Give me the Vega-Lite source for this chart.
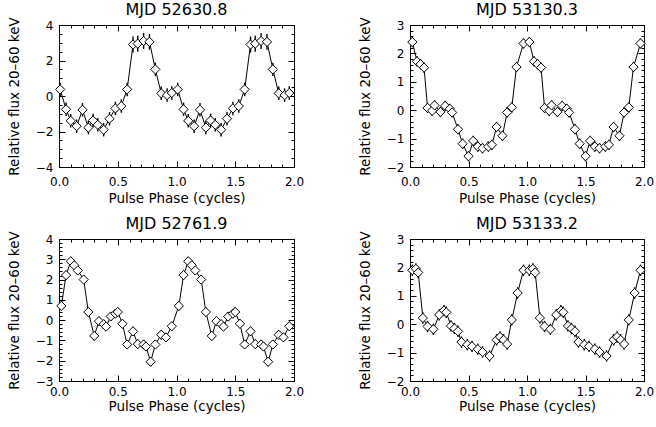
{
  "$schema": "https://vega.github.io/schema/vega-lite/v6.json",
  "background": "white",
  "padding": {"left": 6, "top": 1, "right": 2, "bottom": 2},
  "datasets": {
    "p1": [
      {"phase": 0.01, "flux": 0.37, "err": 0.38}, {"phase": 0.06, "flux": -0.75, "err": 0.38}, {"phase": 0.10, "flux": -1.40, "err": 0.38},
      {"phase": 0.15, "flux": -1.70, "err": 0.38}, {"phase": 0.20, "flux": -0.78, "err": 0.38}, {"phase": 0.25, "flux": -1.78, "err": 0.38},
      {"phase": 0.29, "flux": -1.38, "err": 0.38}, {"phase": 0.33, "flux": -1.62, "err": 0.38}, {"phase": 0.38, "flux": -1.90, "err": 0.38},
      {"phase": 0.43, "flux": -1.28, "err": 0.38}, {"phase": 0.48, "flux": -0.70, "err": 0.38}, {"phase": 0.53, "flux": -0.57, "err": 0.38},
      {"phase": 0.58, "flux": 0.37, "err": 0.38}, {"phase": 0.63, "flux": 2.90, "err": 0.45}, {"phase": 0.67, "flux": 2.95, "err": 0.45},
      {"phase": 0.72, "flux": 3.10, "err": 0.45}, {"phase": 0.77, "flux": 3.05, "err": 0.45}, {"phase": 0.82, "flux": 1.50, "err": 0.38},
      {"phase": 0.87, "flux": 0.15, "err": 0.38}, {"phase": 0.92, "flux": 0.05, "err": 0.38}, {"phase": 0.96, "flux": 0.17, "err": 0.38},
      {"phase": 1.01, "flux": 0.37, "err": 0.38}, {"phase": 1.06, "flux": -0.75, "err": 0.38}, {"phase": 1.10, "flux": -1.40, "err": 0.38},
      {"phase": 1.15, "flux": -1.70, "err": 0.38}, {"phase": 1.20, "flux": -0.78, "err": 0.38}, {"phase": 1.25, "flux": -1.78, "err": 0.38},
      {"phase": 1.29, "flux": -1.38, "err": 0.38}, {"phase": 1.33, "flux": -1.62, "err": 0.38}, {"phase": 1.38, "flux": -1.90, "err": 0.38},
      {"phase": 1.43, "flux": -1.28, "err": 0.38}, {"phase": 1.48, "flux": -0.70, "err": 0.38}, {"phase": 1.53, "flux": -0.57, "err": 0.38},
      {"phase": 1.58, "flux": 0.37, "err": 0.38}, {"phase": 1.63, "flux": 2.90, "err": 0.45}, {"phase": 1.67, "flux": 2.95, "err": 0.45},
      {"phase": 1.72, "flux": 3.10, "err": 0.45}, {"phase": 1.77, "flux": 3.05, "err": 0.45}, {"phase": 1.82, "flux": 1.50, "err": 0.38},
      {"phase": 1.87, "flux": 0.15, "err": 0.38}, {"phase": 1.92, "flux": 0.05, "err": 0.38}, {"phase": 1.96, "flux": 0.17, "err": 0.38}
    ],
    "p2": [
      {"phase": 0.02, "flux": 2.40, "err": 0.18}, {"phase": 0.06, "flux": 1.72, "err": 0.18}, {"phase": 0.09, "flux": 1.62, "err": 0.18},
      {"phase": 0.12, "flux": 1.50, "err": 0.18}, {"phase": 0.15, "flux": 0.08, "err": 0.18}, {"phase": 0.19, "flux": -0.02, "err": 0.18},
      {"phase": 0.21, "flux": 0.17, "err": 0.18}, {"phase": 0.26, "flux": -0.06, "err": 0.18}, {"phase": 0.30, "flux": 0.15, "err": 0.18},
      {"phase": 0.34, "flux": 0.05, "err": 0.18}, {"phase": 0.36, "flux": -0.08, "err": 0.18}, {"phase": 0.41, "flux": -0.67, "err": 0.18},
      {"phase": 0.45, "flux": -1.18, "err": 0.18}, {"phase": 0.50, "flux": -1.62, "err": 0.18}, {"phase": 0.54, "flux": -1.08, "err": 0.18},
      {"phase": 0.58, "flux": -1.28, "err": 0.18}, {"phase": 0.62, "flux": -1.34, "err": 0.18}, {"phase": 0.67, "flux": -1.28, "err": 0.18},
      {"phase": 0.70, "flux": -1.22, "err": 0.18}, {"phase": 0.74, "flux": -0.59, "err": 0.18}, {"phase": 0.79, "flux": -0.90, "err": 0.18},
      {"phase": 0.83, "flux": -0.08, "err": 0.18}, {"phase": 0.87, "flux": 0.10, "err": 0.18}, {"phase": 0.91, "flux": 1.52, "err": 0.18},
      {"phase": 0.97, "flux": 2.35, "err": 0.18},
      {"phase": 1.02, "flux": 2.40, "err": 0.18}, {"phase": 1.06, "flux": 1.72, "err": 0.18}, {"phase": 1.09, "flux": 1.62, "err": 0.18},
      {"phase": 1.12, "flux": 1.50, "err": 0.18}, {"phase": 1.15, "flux": 0.08, "err": 0.18}, {"phase": 1.19, "flux": -0.02, "err": 0.18},
      {"phase": 1.21, "flux": 0.17, "err": 0.18}, {"phase": 1.26, "flux": -0.06, "err": 0.18}, {"phase": 1.30, "flux": 0.15, "err": 0.18},
      {"phase": 1.34, "flux": 0.05, "err": 0.18}, {"phase": 1.36, "flux": -0.08, "err": 0.18}, {"phase": 1.41, "flux": -0.67, "err": 0.18},
      {"phase": 1.45, "flux": -1.18, "err": 0.18}, {"phase": 1.50, "flux": -1.62, "err": 0.18}, {"phase": 1.54, "flux": -1.08, "err": 0.18},
      {"phase": 1.58, "flux": -1.28, "err": 0.18}, {"phase": 1.62, "flux": -1.34, "err": 0.18}, {"phase": 1.67, "flux": -1.28, "err": 0.18},
      {"phase": 1.70, "flux": -1.22, "err": 0.18}, {"phase": 1.74, "flux": -0.59, "err": 0.18}, {"phase": 1.79, "flux": -0.90, "err": 0.18},
      {"phase": 1.83, "flux": -0.08, "err": 0.18}, {"phase": 1.87, "flux": 0.10, "err": 0.18}, {"phase": 1.91, "flux": 1.52, "err": 0.18},
      {"phase": 1.97, "flux": 2.35, "err": 0.18}
    ],
    "p3": [
      {"phase": 0.02, "flux": 0.70, "err": 0.22}, {"phase": 0.06, "flux": 2.22, "err": 0.22}, {"phase": 0.10, "flux": 2.90, "err": 0.22},
      {"phase": 0.13, "flux": 2.70, "err": 0.22}, {"phase": 0.16, "flux": 2.45, "err": 0.22}, {"phase": 0.21, "flux": 2.00, "err": 0.22},
      {"phase": 0.25, "flux": 0.40, "err": 0.22}, {"phase": 0.30, "flux": -0.78, "err": 0.22}, {"phase": 0.34, "flux": -0.05, "err": 0.22},
      {"phase": 0.38, "flux": -0.20, "err": 0.22}, {"phase": 0.40, "flux": -0.32, "err": 0.22}, {"phase": 0.44, "flux": 0.18, "err": 0.22},
      {"phase": 0.48, "flux": 0.32, "err": 0.22}, {"phase": 0.50, "flux": 0.40, "err": 0.22}, {"phase": 0.54, "flux": -0.18, "err": 0.22},
      {"phase": 0.58, "flux": -1.20, "err": 0.22}, {"phase": 0.63, "flux": -0.55, "err": 0.22}, {"phase": 0.67, "flux": -1.18, "err": 0.22},
      {"phase": 0.72, "flux": -1.20, "err": 0.22}, {"phase": 0.74, "flux": -1.30, "err": 0.22}, {"phase": 0.78, "flux": -2.05, "err": 0.22},
      {"phase": 0.82, "flux": -1.20, "err": 0.22}, {"phase": 0.87, "flux": -0.72, "err": 0.22}, {"phase": 0.91, "flux": -0.85, "err": 0.22},
      {"phase": 0.96, "flux": -0.30, "err": 0.22},
      {"phase": 1.02, "flux": 0.70, "err": 0.22}, {"phase": 1.06, "flux": 2.22, "err": 0.22}, {"phase": 1.10, "flux": 2.90, "err": 0.22},
      {"phase": 1.13, "flux": 2.70, "err": 0.22}, {"phase": 1.16, "flux": 2.45, "err": 0.22}, {"phase": 1.21, "flux": 2.00, "err": 0.22},
      {"phase": 1.25, "flux": 0.40, "err": 0.22}, {"phase": 1.30, "flux": -0.78, "err": 0.22}, {"phase": 1.34, "flux": -0.05, "err": 0.22},
      {"phase": 1.38, "flux": -0.20, "err": 0.22}, {"phase": 1.40, "flux": -0.32, "err": 0.22}, {"phase": 1.44, "flux": 0.18, "err": 0.22},
      {"phase": 1.48, "flux": 0.32, "err": 0.22}, {"phase": 1.50, "flux": 0.40, "err": 0.22}, {"phase": 1.54, "flux": -0.18, "err": 0.22},
      {"phase": 1.58, "flux": -1.20, "err": 0.22}, {"phase": 1.63, "flux": -0.55, "err": 0.22}, {"phase": 1.67, "flux": -1.18, "err": 0.22},
      {"phase": 1.72, "flux": -1.20, "err": 0.22}, {"phase": 1.74, "flux": -1.30, "err": 0.22}, {"phase": 1.78, "flux": -2.05, "err": 0.22},
      {"phase": 1.82, "flux": -1.20, "err": 0.22}, {"phase": 1.87, "flux": -0.72, "err": 0.22}, {"phase": 1.91, "flux": -0.85, "err": 0.22},
      {"phase": 1.96, "flux": -0.30, "err": 0.22}
    ],
    "p4": [
      {"phase": 0.02, "flux": 1.90, "err": 0.2}, {"phase": 0.05, "flux": 1.95, "err": 0.2}, {"phase": 0.07, "flux": 1.82, "err": 0.2},
      {"phase": 0.11, "flux": 0.22, "err": 0.2}, {"phase": 0.15, "flux": -0.08, "err": 0.2}, {"phase": 0.20, "flux": -0.18, "err": 0.2},
      {"phase": 0.25, "flux": 0.33, "err": 0.2}, {"phase": 0.29, "flux": 0.48, "err": 0.2}, {"phase": 0.31, "flux": 0.42, "err": 0.2},
      {"phase": 0.35, "flux": -0.06, "err": 0.2}, {"phase": 0.38, "flux": -0.15, "err": 0.2}, {"phase": 0.41, "flux": -0.25, "err": 0.2},
      {"phase": 0.44, "flux": -0.63, "err": 0.2}, {"phase": 0.49, "flux": -0.72, "err": 0.2}, {"phase": 0.53, "flux": -0.78, "err": 0.2},
      {"phase": 0.58, "flux": -0.88, "err": 0.2}, {"phase": 0.62, "flux": -0.98, "err": 0.2}, {"phase": 0.68, "flux": -1.12, "err": 0.2},
      {"phase": 0.74, "flux": -0.55, "err": 0.2}, {"phase": 0.77, "flux": -0.45, "err": 0.2}, {"phase": 0.80, "flux": -0.55, "err": 0.2},
      {"phase": 0.83, "flux": -0.70, "err": 0.2}, {"phase": 0.87, "flux": 0.15, "err": 0.2}, {"phase": 0.92, "flux": 1.10, "err": 0.2},
      {"phase": 0.97, "flux": 1.90, "err": 0.2},
      {"phase": 1.02, "flux": 1.90, "err": 0.2}, {"phase": 1.05, "flux": 1.95, "err": 0.2}, {"phase": 1.07, "flux": 1.82, "err": 0.2},
      {"phase": 1.11, "flux": 0.22, "err": 0.2}, {"phase": 1.15, "flux": -0.08, "err": 0.2}, {"phase": 1.20, "flux": -0.18, "err": 0.2},
      {"phase": 1.25, "flux": 0.33, "err": 0.2}, {"phase": 1.29, "flux": 0.48, "err": 0.2}, {"phase": 1.31, "flux": 0.42, "err": 0.2},
      {"phase": 1.35, "flux": -0.06, "err": 0.2}, {"phase": 1.38, "flux": -0.15, "err": 0.2}, {"phase": 1.41, "flux": -0.25, "err": 0.2},
      {"phase": 1.44, "flux": -0.63, "err": 0.2}, {"phase": 1.49, "flux": -0.72, "err": 0.2}, {"phase": 1.53, "flux": -0.78, "err": 0.2},
      {"phase": 1.58, "flux": -0.88, "err": 0.2}, {"phase": 1.62, "flux": -0.98, "err": 0.2}, {"phase": 1.68, "flux": -1.12, "err": 0.2},
      {"phase": 1.74, "flux": -0.55, "err": 0.2}, {"phase": 1.77, "flux": -0.45, "err": 0.2}, {"phase": 1.80, "flux": -0.55, "err": 0.2},
      {"phase": 1.83, "flux": -0.70, "err": 0.2}, {"phase": 1.87, "flux": 0.15, "err": 0.2}, {"phase": 1.92, "flux": 1.10, "err": 0.2},
      {"phase": 1.97, "flux": 1.90, "err": 0.2}
    ]
  },
  "columns": 2,
  "spacing": {"row": 72, "column": 116},
  "bounds": "flush",
  "concat": [
    {
      "title": "MJD 52630.8",
      "width": 235, "height": 142,
      "data": {"name": "p1"},
      "resolve": {"axis": {"x": "independent", "y": "independent"}},
      "layer": [
        {"mark": {"type": "errorbar", "rule": {"stroke": "black", "strokeWidth": 1.4}},
         "encoding": {
           "x": {"field": "phase", "type": "quantitative", "axis": null, "scale": {"domain": [0, 2], "nice": false, "zero": false}},
           "y": {"field": "flux", "type": "quantitative", "axis": null, "scale": {"domain": [-4, 4], "nice": false, "zero": false}},
           "yError": {"field": "err"}}},
        {"mark": {"type": "line", "color": "black", "strokeWidth": 1},
         "encoding": {
           "x": {"field": "phase", "type": "quantitative", "axis": {"orient": "bottom", "title": "Pulse Phase (cycles)", "tickCount": 200, "values": [0,0.1,0.2,0.3,0.4,0.5,0.6,0.7,0.8,0.9,1,1.1,1.2,1.3,1.4,1.5,1.6,1.7,1.8,1.9,2], "labelExpr": "abs(datum.value*2-round(datum.value*2))<0.01 ? format(datum.value, '.1f') : ''", "tickSize": {"condition": {"test": "abs(datum.value*2-round(datum.value*2))<0.01", "value": -6}, "value": -3}, "labelPadding": 15, "titlePadding": 1}},
           "y": {"field": "flux", "type": "quantitative", "axis": {"orient": "left", "title": "Relative flux 20–60 keV", "tickCount": 200, "values": [-4,-3.5,-3,-2.5,-2,-1.5,-1,-0.5,0,0.5,1,1.5,2,2.5,3,3.5,4], "labelExpr": "abs(datum.value/2-round(datum.value/2))<0.01 ? format(datum.value, 'd') : ''", "tickSize": {"condition": {"test": "abs(datum.value/2-round(datum.value/2))<0.01", "value": -6}, "value": -3}, "labelPadding": 12, "titlePadding": 14}}}},
        {"mark": {"type": "point", "shape": "diamond", "filled": true, "fill": "white", "stroke": "black", "strokeWidth": 1, "size": 85, "opacity": 1},
         "encoding": {
           "x": {"field": "phase", "type": "quantitative", "axis": {"orient": "top", "title": null, "labels": false, "tickCount": 200, "values": [0,0.1,0.2,0.3,0.4,0.5,0.6,0.7,0.8,0.9,1,1.1,1.2,1.3,1.4,1.5,1.6,1.7,1.8,1.9,2], "tickSize": {"condition": {"test": "abs(datum.value*2-round(datum.value*2))<0.01", "value": -6}, "value": -3}}},
           "y": {"field": "flux", "type": "quantitative", "axis": {"orient": "right", "title": null, "labels": false, "tickCount": 200, "values": [-4,-3.5,-3,-2.5,-2,-1.5,-1,-0.5,0,0.5,1,1.5,2,2.5,3,3.5,4], "tickSize": {"condition": {"test": "abs(datum.value/2-round(datum.value/2))<0.01", "value": -6}, "value": -3}}}}}
      ]
    },
    {
      "title": "MJD 53130.3",
      "width": 234, "height": 142,
      "data": {"name": "p2"},
      "resolve": {"axis": {"x": "independent", "y": "independent"}},
      "layer": [
        {"mark": {"type": "errorbar", "rule": {"stroke": "black", "strokeWidth": 1.4}},
         "encoding": {
           "x": {"field": "phase", "type": "quantitative", "axis": null, "scale": {"domain": [0, 2], "nice": false, "zero": false}},
           "y": {"field": "flux", "type": "quantitative", "axis": null, "scale": {"domain": [-2, 3], "nice": false, "zero": false}},
           "yError": {"field": "err"}}},
        {"mark": {"type": "line", "color": "black", "strokeWidth": 1},
         "encoding": {
           "x": {"field": "phase", "type": "quantitative", "axis": {"orient": "bottom", "title": "Pulse Phase (cycles)", "tickCount": 200, "values": [0,0.1,0.2,0.3,0.4,0.5,0.6,0.7,0.8,0.9,1,1.1,1.2,1.3,1.4,1.5,1.6,1.7,1.8,1.9,2], "labelExpr": "abs(datum.value*2-round(datum.value*2))<0.01 ? format(datum.value, '.1f') : ''", "tickSize": {"condition": {"test": "abs(datum.value*2-round(datum.value*2))<0.01", "value": -6}, "value": -3}, "labelPadding": 15, "titlePadding": 1}},
           "y": {"field": "flux", "type": "quantitative", "axis": {"orient": "left", "title": "Relative flux 20–60 keV", "tickCount": 200, "values": [-2,-1.8,-1.6,-1.4,-1.2,-1,-0.8,-0.6,-0.4,-0.2,0,0.2,0.4,0.6,0.8,1,1.2,1.4,1.6,1.8,2,2.2,2.4,2.6,2.8,3], "labelExpr": "abs(datum.value-round(datum.value))<0.01 ? format(datum.value, 'd') : ''", "tickSize": {"condition": {"test": "abs(datum.value-round(datum.value))<0.01", "value": -6}, "value": -3}, "labelPadding": 12, "titlePadding": 14}}}},
        {"mark": {"type": "point", "shape": "diamond", "filled": true, "fill": "white", "stroke": "black", "strokeWidth": 1, "size": 85, "opacity": 1},
         "encoding": {
           "x": {"field": "phase", "type": "quantitative", "axis": {"orient": "top", "title": null, "labels": false, "tickCount": 200, "values": [0,0.1,0.2,0.3,0.4,0.5,0.6,0.7,0.8,0.9,1,1.1,1.2,1.3,1.4,1.5,1.6,1.7,1.8,1.9,2], "tickSize": {"condition": {"test": "abs(datum.value*2-round(datum.value*2))<0.01", "value": -6}, "value": -3}}},
           "y": {"field": "flux", "type": "quantitative", "axis": {"orient": "right", "title": null, "labels": false, "tickCount": 200, "values": [-2,-1.8,-1.6,-1.4,-1.2,-1,-0.8,-0.6,-0.4,-0.2,0,0.2,0.4,0.6,0.8,1,1.2,1.4,1.6,1.8,2,2.2,2.4,2.6,2.8,3], "tickSize": {"condition": {"test": "abs(datum.value-round(datum.value))<0.01", "value": -6}, "value": -3}}}}}
      ]
    },
    {
      "title": "MJD 52761.9",
      "width": 235, "height": 142,
      "data": {"name": "p3"},
      "resolve": {"axis": {"x": "independent", "y": "independent"}},
      "layer": [
        {"mark": {"type": "errorbar", "rule": {"stroke": "black", "strokeWidth": 1.4}},
         "encoding": {
           "x": {"field": "phase", "type": "quantitative", "axis": null, "scale": {"domain": [0, 2], "nice": false, "zero": false}},
           "y": {"field": "flux", "type": "quantitative", "axis": null, "scale": {"domain": [-3, 4], "nice": false, "zero": false}},
           "yError": {"field": "err"}}},
        {"mark": {"type": "line", "color": "black", "strokeWidth": 1},
         "encoding": {
           "x": {"field": "phase", "type": "quantitative", "axis": {"orient": "bottom", "title": "Pulse Phase (cycles)", "tickCount": 200, "values": [0,0.1,0.2,0.3,0.4,0.5,0.6,0.7,0.8,0.9,1,1.1,1.2,1.3,1.4,1.5,1.6,1.7,1.8,1.9,2], "labelExpr": "abs(datum.value*2-round(datum.value*2))<0.01 ? format(datum.value, '.1f') : ''", "tickSize": {"condition": {"test": "abs(datum.value*2-round(datum.value*2))<0.01", "value": -6}, "value": -3}, "labelPadding": 11, "titlePadding": -1}},
           "y": {"field": "flux", "type": "quantitative", "axis": {"orient": "left", "title": "Relative flux 20–60 keV", "tickCount": 200, "values": [-3,-2.8,-2.6,-2.4,-2.2,-2,-1.8,-1.6,-1.4,-1.2,-1,-0.8,-0.6,-0.4,-0.2,0,0.2,0.4,0.6,0.8,1,1.2,1.4,1.6,1.8,2,2.2,2.4,2.6,2.8,3,3.2,3.4,3.6,3.8,4], "labelExpr": "abs(datum.value-round(datum.value))<0.01 ? format(datum.value, 'd') : ''", "tickSize": {"condition": {"test": "abs(datum.value-round(datum.value))<0.01", "value": -6}, "value": -3}, "labelPadding": 12, "titlePadding": 14}}}},
        {"mark": {"type": "point", "shape": "diamond", "filled": true, "fill": "white", "stroke": "black", "strokeWidth": 1, "size": 85, "opacity": 1},
         "encoding": {
           "x": {"field": "phase", "type": "quantitative", "axis": {"orient": "top", "title": null, "labels": false, "tickCount": 200, "values": [0,0.1,0.2,0.3,0.4,0.5,0.6,0.7,0.8,0.9,1,1.1,1.2,1.3,1.4,1.5,1.6,1.7,1.8,1.9,2], "tickSize": {"condition": {"test": "abs(datum.value*2-round(datum.value*2))<0.01", "value": -6}, "value": -3}}},
           "y": {"field": "flux", "type": "quantitative", "axis": {"orient": "right", "title": null, "labels": false, "tickCount": 200, "values": [-3,-2.8,-2.6,-2.4,-2.2,-2,-1.8,-1.6,-1.4,-1.2,-1,-0.8,-0.6,-0.4,-0.2,0,0.2,0.4,0.6,0.8,1,1.2,1.4,1.6,1.8,2,2.2,2.4,2.6,2.8,3,3.2,3.4,3.6,3.8,4], "tickSize": {"condition": {"test": "abs(datum.value-round(datum.value))<0.01", "value": -6}, "value": -3}}}}}
      ]
    },
    {
      "title": "MJD 53133.2",
      "width": 234, "height": 142,
      "data": {"name": "p4"},
      "resolve": {"axis": {"x": "independent", "y": "independent"}},
      "layer": [
        {"mark": {"type": "errorbar", "rule": {"stroke": "black", "strokeWidth": 1.4}},
         "encoding": {
           "x": {"field": "phase", "type": "quantitative", "axis": null, "scale": {"domain": [0, 2], "nice": false, "zero": false}},
           "y": {"field": "flux", "type": "quantitative", "axis": null, "scale": {"domain": [-2, 3], "nice": false, "zero": false}},
           "yError": {"field": "err"}}},
        {"mark": {"type": "line", "color": "black", "strokeWidth": 1},
         "encoding": {
           "x": {"field": "phase", "type": "quantitative", "axis": {"orient": "bottom", "title": "Pulse Phase (cycles)", "tickCount": 200, "values": [0,0.1,0.2,0.3,0.4,0.5,0.6,0.7,0.8,0.9,1,1.1,1.2,1.3,1.4,1.5,1.6,1.7,1.8,1.9,2], "labelExpr": "abs(datum.value*2-round(datum.value*2))<0.01 ? format(datum.value, '.1f') : ''", "tickSize": {"condition": {"test": "abs(datum.value*2-round(datum.value*2))<0.01", "value": -6}, "value": -3}, "labelPadding": 11, "titlePadding": -1}},
           "y": {"field": "flux", "type": "quantitative", "axis": {"orient": "left", "title": "Relative flux 20–60 keV", "tickCount": 200, "values": [-2,-1.8,-1.6,-1.4,-1.2,-1,-0.8,-0.6,-0.4,-0.2,0,0.2,0.4,0.6,0.8,1,1.2,1.4,1.6,1.8,2,2.2,2.4,2.6,2.8,3], "labelExpr": "abs(datum.value-round(datum.value))<0.01 ? format(datum.value, 'd') : ''", "tickSize": {"condition": {"test": "abs(datum.value-round(datum.value))<0.01", "value": -6}, "value": -3}, "labelPadding": 12, "titlePadding": 14}}}},
        {"mark": {"type": "point", "shape": "diamond", "filled": true, "fill": "white", "stroke": "black", "strokeWidth": 1, "size": 85, "opacity": 1},
         "encoding": {
           "x": {"field": "phase", "type": "quantitative", "axis": {"orient": "top", "title": null, "labels": false, "tickCount": 200, "values": [0,0.1,0.2,0.3,0.4,0.5,0.6,0.7,0.8,0.9,1,1.1,1.2,1.3,1.4,1.5,1.6,1.7,1.8,1.9,2], "tickSize": {"condition": {"test": "abs(datum.value*2-round(datum.value*2))<0.01", "value": -6}, "value": -3}}},
           "y": {"field": "flux", "type": "quantitative", "axis": {"orient": "right", "title": null, "labels": false, "tickCount": 200, "values": [-2,-1.8,-1.6,-1.4,-1.2,-1,-0.8,-0.6,-0.4,-0.2,0,0.2,0.4,0.6,0.8,1,1.2,1.4,1.6,1.8,2,2.2,2.4,2.6,2.8,3], "tickSize": {"condition": {"test": "abs(datum.value-round(datum.value))<0.01", "value": -6}, "value": -3}}}}}
      ]
    }
  ],
  "config": {
    "font": "DejaVu Sans",
    "view": {"stroke": "black", "strokeWidth": 1},
    "axis": {"grid": false, "domainColor": "black", "domainWidth": 1, "tickColor": "black", "tickWidth": 1, "labelColor": "black", "titleColor": "black", "labelFont": "DejaVu Sans", "titleFont": "DejaVu Sans", "labelFontSize": 12, "titleFontSize": 13.5, "titleFontWeight": "normal", "labelOverlap": false, "labelFlush": false},
    "title": {"font": "DejaVu Sans", "fontSize": 16, "fontWeight": "normal", "color": "black", "offset": -1}
  }
}
